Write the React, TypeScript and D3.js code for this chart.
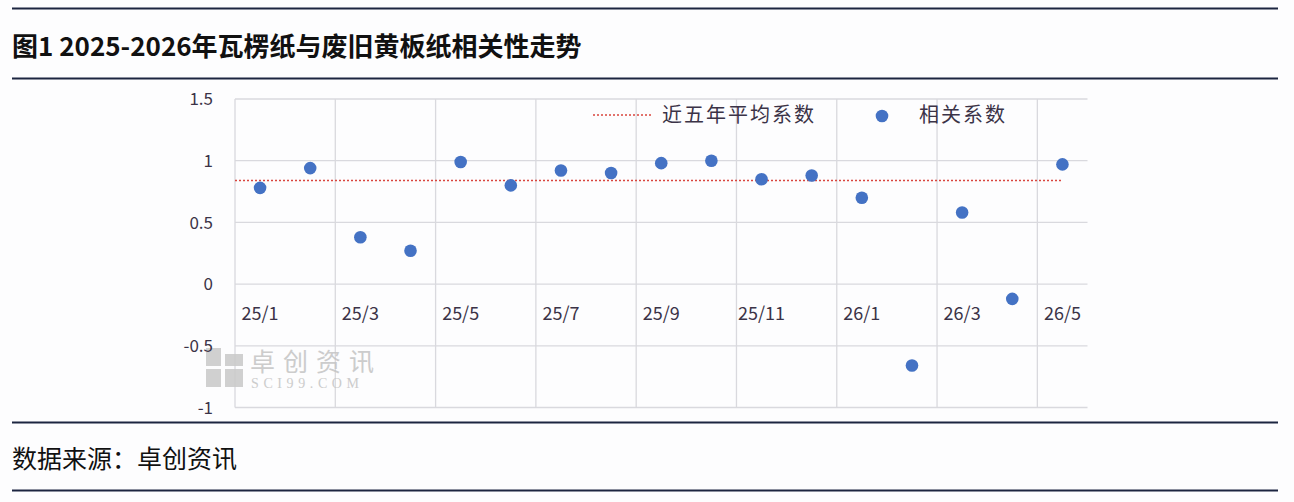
import React from "react";
import * as d3 from "d3";

const categories = ["25/1","25/2","25/3","25/4","25/5","25/6","25/7","25/8","25/9","25/10","25/11","25/12","26/1","26/2","26/3","26/4","26/5"];
const correlation = [0.78,0.94,0.38,0.27,0.99,0.80,0.92,0.90,0.98,1.0,0.85,0.88,0.70,-0.66,0.58,-0.12,0.97];
const fiveYearAvg = 0.84;
const yTicks = [-1,-0.5,0,0.5,1,1.5];
const yTickLabels = ["-1","-0.5","0","0.5","1","1.5"];
const title = "图1 2025-2026年瓦楞纸与废旧黄板纸相关性走势";
const source = "数据来源：卓创资讯";
const legendAvg = "近五年平均系数";
const legendCorr = "相关系数";

const W = 1294, H = 502;
const FONT = "'Noto Sans CJK SC', 'Noto Sans', sans-serif";

export default function App() {
  const x = d3.scaleBand<string>().domain(categories).range([235, 1087.5]);
  const y = d3.scaleLinear().domain([-1, 1.5]).range([407.5, 99]);
  const bw = x.bandwidth();
  const cx = (c: string) => (x(c) as number) + bw / 2;
  const vLines = categories.filter((_, i) => i % 2 === 0);
  const lastC = categories[categories.length - 1];
  const textColor = "#3b3347";
  const grid = "#d9d9de";
  const navy = "#1c2540";
  return (
    <svg width={W} height={H} style={{ position: "absolute", left: 0, top: 0, background: "#fdfdfe" }}>
      <rect x={0} y={0} width={W} height={H} fill="#fdfdfe" />
      <line x1={12} x2={1278} y1={8.5} y2={8.5} stroke={navy} strokeWidth={2} />
      <text x={12} y={56} fontFamily={FONT} fontWeight={700} fontSize={26} fill="#111">{title}</text>
      <line x1={12} x2={1278} y1={78.5} y2={78.5} stroke={navy} strokeWidth={2} />

      {/* grid */}
      {yTicks.map((t) => (
        <line key={"h" + t} x1={235} x2={1087.5} y1={y(t)} y2={y(t)} stroke={grid} strokeWidth={1.3} />
      ))}
      {vLines.map((c) => (
        <line key={"v" + c} x1={x(c)} x2={x(c)} y1={99} y2={407.5} stroke={grid} strokeWidth={1.3} />
      ))}

      {/* watermark */}
      <g fill="#c9c9c9" opacity={0.85}>
        <rect x={206} y={348} width={15} height={18} />
        <rect x={225} y={354} width={18} height={12} />
        <rect x={206} y={369} width={15} height={18} />
        <rect x={225} y={369} width={18} height={18} />
        <text x={250} y={371} fontFamily={FONT} fontSize={25} letterSpacing={8} fill="#c4c4c4">卓创资讯</text>
        <text x={251} y={388} fontFamily="'Liberation Serif', serif" fontSize={14} letterSpacing={4.6} fill="#c4c4c4">SCI99.COM</text>
      </g>

      {/* y tick labels */}
      {yTicks.map((t, i) => (
        <text key={"yl" + t} x={213} y={y(t)} dy="0.36em" textAnchor="end" fontFamily={FONT} fontSize={17} fill={textColor}>{yTickLabels[i]}</text>
      ))}
      {/* x tick labels */}
      {vLines.map((c) => (
        <text key={"xl" + c} x={cx(c)} y={320} textAnchor="middle" fontFamily={FONT} fontSize={18} fill={textColor}>{c}</text>
      ))}

      {/* average line */}
      <line x1={235} x2={cx(lastC)} y1={y(fiveYearAvg)} y2={y(fiveYearAvg)} stroke="#d9463e" strokeWidth={1.5} strokeDasharray="2,2" />

      {/* points */}
      {categories.map((c, i) => (
        <circle key={"p" + c} cx={cx(c)} cy={y(correlation[i])} r={6.3} fill="#4472c4" />
      ))}

      {/* legend */}
      <line x1={593} x2={653} y1={115} y2={115} stroke="#d9463e" strokeWidth={1.5} strokeDasharray="2,2" />
      <text x={662} y={115} dy="0.36em" fontFamily={FONT} fontSize={20} letterSpacing={2} fill={textColor}>{legendAvg}</text>
      <circle cx={882} cy={116} r={6.3} fill="#4472c4" />
      <text x={919} y={115} dy="0.36em" fontFamily={FONT} fontSize={20} letterSpacing={2} fill={textColor}>{legendCorr}</text>

      <line x1={12} x2={1278} y1={422.5} y2={422.5} stroke={navy} strokeWidth={2} />
      <text x={12} y={468} fontFamily={FONT} fontSize={25} fill="#111">{source}</text>
      <line x1={12} x2={1278} y1={490.5} y2={490.5} stroke={navy} strokeWidth={2} />
    </svg>
  );
}
